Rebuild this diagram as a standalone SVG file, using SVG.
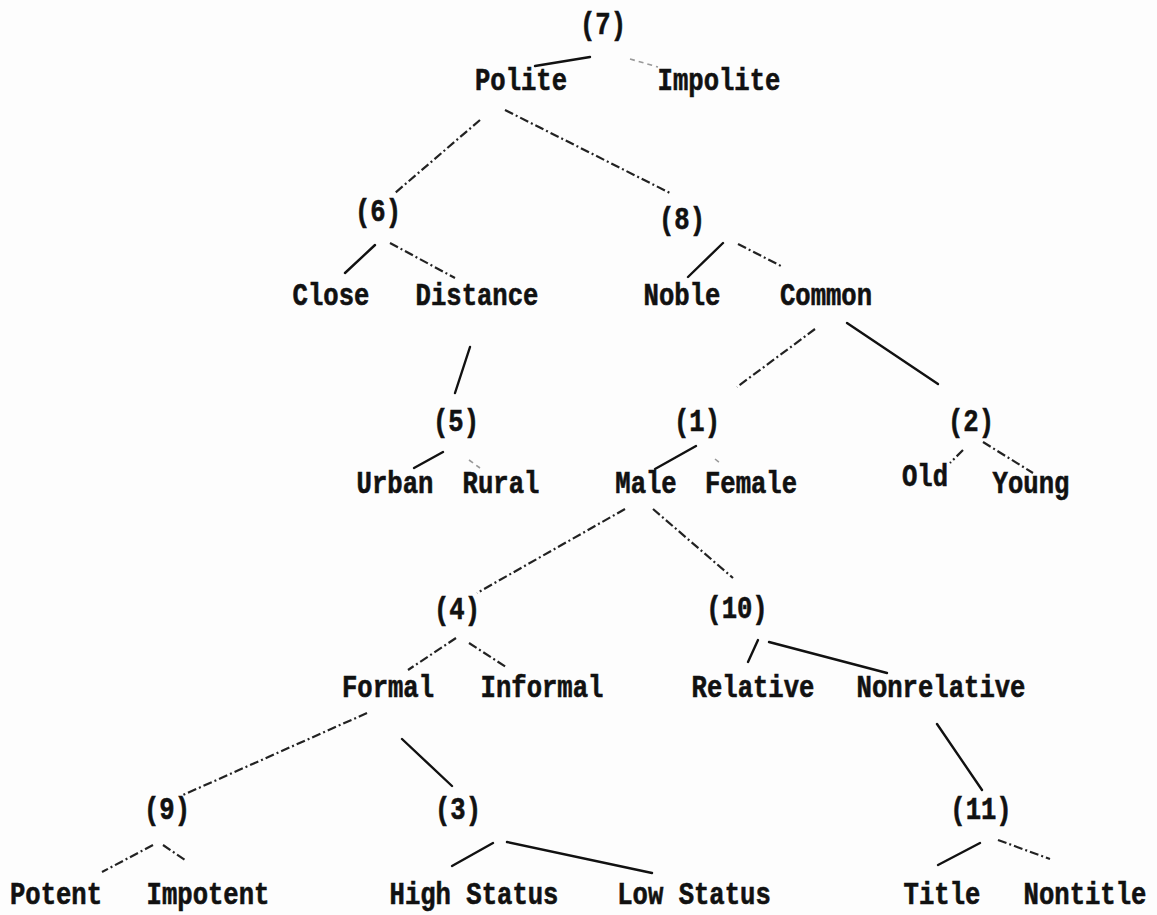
<svg xmlns="http://www.w3.org/2000/svg" width="1157" height="915" viewBox="0 0 1157 915">
<style>
.t{font-family:"Liberation Mono","Courier New",monospace;font-weight:bold;font-size:25.6px;fill:#111;stroke:#111;stroke-width:0.5;text-anchor:middle}
.s{stroke:#111;stroke-width:2.4;fill:none;stroke-linecap:round}
.d{stroke:#222;stroke-width:2.2;fill:none;stroke-dasharray:9 3 2 3}
.f{stroke:#999;stroke-width:1.6;fill:none;stroke-dasharray:5 4}
</style>
<rect width="1157" height="915" fill="#fdfdfd"/>
<g id="connectors">
<line class="s" x1="590" y1="57" x2="535" y2="66"/>
<line class="f" x1="630" y1="59" x2="658" y2="67"/>
<line class="d" x1="480" y1="120" x2="395" y2="193"/>
<line class="d" x1="505" y1="110" x2="672" y2="194"/>
<line class="s" x1="375" y1="245" x2="345" y2="273"/>
<line class="d" x1="390" y1="243" x2="455" y2="278"/>
<line class="s" x1="470" y1="347" x2="455" y2="393"/>
<line class="s" x1="723" y1="243" x2="688" y2="277"/>
<line class="d" x1="738" y1="244" x2="781" y2="266"/>
<line class="d" x1="815" y1="329" x2="737" y2="387"/>
<line class="s" x1="847" y1="323" x2="938" y2="384"/>
<line class="s" x1="443" y1="452" x2="414" y2="468"/>
<line class="f" x1="469" y1="460" x2="480" y2="468"/>
<line class="s" x1="696" y1="446" x2="655" y2="469"/>
<line class="f" x1="715" y1="459" x2="720" y2="463"/>
<line class="d" x1="963" y1="450" x2="950" y2="463"/>
<line class="d" x1="983" y1="442" x2="1033" y2="473"/>
<line class="d" x1="625" y1="509" x2="477" y2="593"/>
<line class="d" x1="653" y1="509" x2="733" y2="578"/>
<line class="d" x1="456" y1="638" x2="408" y2="670"/>
<line class="d" x1="469" y1="643" x2="506" y2="667"/>
<line class="s" x1="758" y1="640" x2="748" y2="662"/>
<line class="s" x1="769" y1="642" x2="887" y2="673"/>
<line class="d" x1="367" y1="713" x2="183" y2="795"/>
<line class="s" x1="402" y1="739" x2="452" y2="786"/>
<line class="s" x1="937" y1="724" x2="982" y2="790"/>
<line class="d" x1="153" y1="845" x2="102" y2="872"/>
<line class="d" x1="163" y1="845" x2="185" y2="860"/>
<line class="s" x1="493" y1="843" x2="452" y2="866"/>
<line class="s" x1="507" y1="842" x2="652" y2="873"/>
<line class="s" x1="980" y1="843" x2="938" y2="865"/>
<line class="d" x1="998" y1="840" x2="1050" y2="859"/>
</g>
<g id="n7"><text class="t" transform="translate(603,34) scale(1,1.2)">(7)</text></g>
<g id="polite"><text class="t" transform="translate(521,90) scale(1,1.2)">Polite</text></g>
<g id="impolite"><text class="t" transform="translate(719,90) scale(1,1.2)">Impolite</text></g>
<g id="n6"><text class="t" transform="translate(378,221) scale(1,1.2)">(6)</text></g>
<g id="n8"><text class="t" transform="translate(682,229) scale(1,1.2)">(8)</text></g>
<g id="close"><text class="t" transform="translate(331,305) scale(1,1.2)">Close</text></g>
<g id="distance"><text class="t" transform="translate(477,305) scale(1,1.2)">Distance</text></g>
<g id="noble"><text class="t" transform="translate(682,305) scale(1,1.2)">Noble</text></g>
<g id="common"><text class="t" transform="translate(826,305) scale(1,1.2)">Common</text></g>
<g id="n5"><text class="t" transform="translate(456,431) scale(1,1.2)">(5)</text></g>
<g id="n1"><text class="t" transform="translate(697,431) scale(1,1.2)">(1)</text></g>
<g id="n2"><text class="t" transform="translate(971,431) scale(1,1.2)">(2)</text></g>
<g id="urban"><text class="t" transform="translate(395,493) scale(1,1.2)">Urban</text></g>
<g id="rural"><text class="t" transform="translate(501,493) scale(1,1.2)">Rural</text></g>
<g id="male"><text class="t" transform="translate(646,493) scale(1,1.2)">Male</text></g>
<g id="female"><text class="t" transform="translate(751,493) scale(1,1.2)">Female</text></g>
<g id="old"><text class="t" transform="translate(925,486) scale(1,1.2)">Old</text></g>
<g id="young"><text class="t" transform="translate(1031,493) scale(1,1.2)">Young</text></g>
<g id="n4"><text class="t" transform="translate(457,619) scale(1,1.2)">(4)</text></g>
<g id="n10"><text class="t" transform="translate(737,618) scale(1,1.2)">(10)</text></g>
<g id="formal"><text class="t" transform="translate(388,697) scale(1,1.2)">Formal</text></g>
<g id="informal"><text class="t" transform="translate(542,697) scale(1,1.2)">Informal</text></g>
<g id="relative"><text class="t" transform="translate(753,697) scale(1,1.2)">Relative</text></g>
<g id="nonrelative"><text class="t" transform="translate(941,697) scale(1,1.2)">Nonrelative</text></g>
<g id="n9"><text class="t" transform="translate(167,819) scale(1,1.2)">(9)</text></g>
<g id="n3"><text class="t" transform="translate(458,819) scale(1,1.2)">(3)</text></g>
<g id="n11"><text class="t" transform="translate(981,819) scale(1,1.2)">(11)</text></g>
<g id="potent"><text class="t" transform="translate(56,904) scale(1,1.2)">Potent</text></g>
<g id="impotent"><text class="t" transform="translate(208,904) scale(1,1.2)">Impotent</text></g>
<g id="highstatus"><text class="t" transform="translate(474,904) scale(1,1.2)">High Status</text></g>
<g id="lowstatus"><text class="t" transform="translate(694,904) scale(1,1.2)">Low Status</text></g>
<g id="title"><text class="t" transform="translate(942,904) scale(1,1.2)">Title</text></g>
<g id="nontitle"><text class="t" transform="translate(1085,904) scale(1,1.2)">Nontitle</text></g>
</svg>
